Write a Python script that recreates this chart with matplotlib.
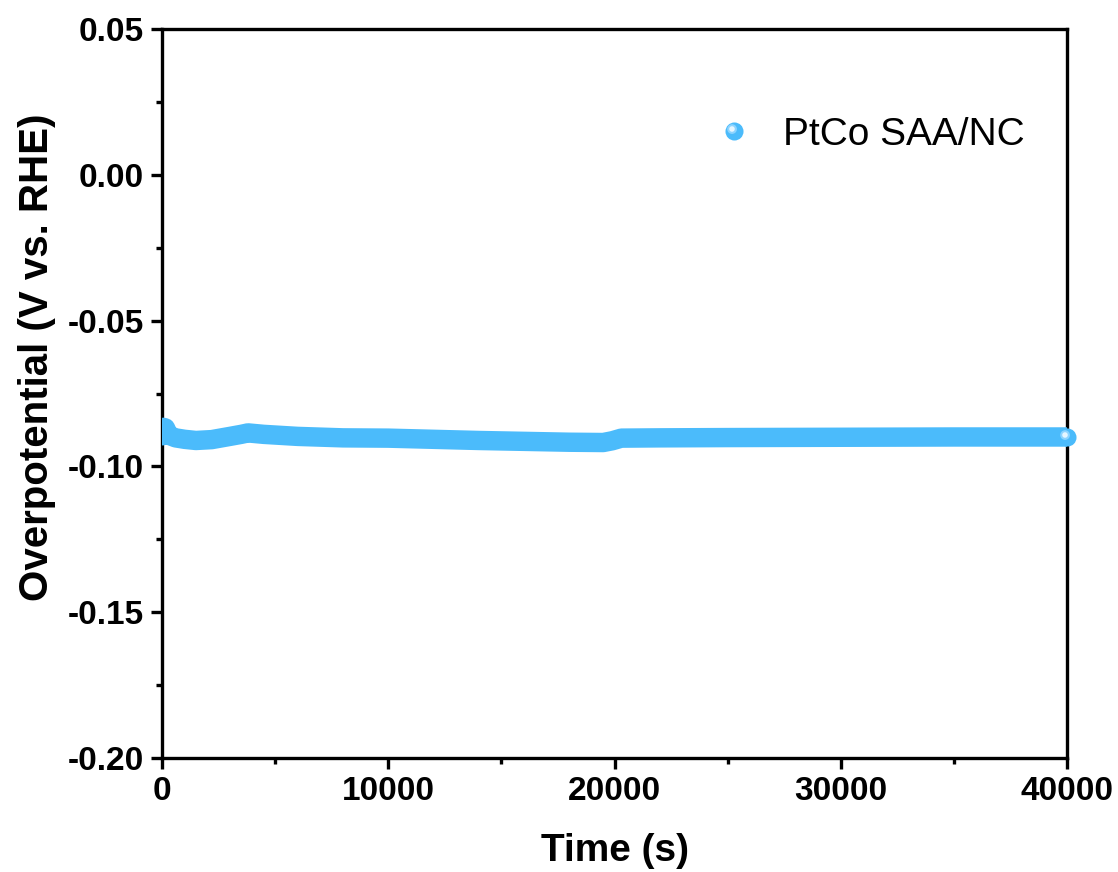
import matplotlib
matplotlib.use("Agg")
import matplotlib.pyplot as plt
from matplotlib.lines import Line2D
from matplotlib.markers import MarkerStyle
from matplotlib.transforms import Affine2D
from matplotlib.legend_handler import HandlerTuple
from matplotlib.ticker import MultipleLocator, FormatStrFormatter

plt.rcParams['font.family'] = ['Liberation Sans', 'DejaVu Sans']

# Data
time_s = [0, 60, 150, 300, 600, 1000, 1500, 2200, 3000, 3500, 3800, 4500,
          6000, 8000, 10000, 12000, 14000, 16000, 18000, 19500, 19900,
          20300, 22000, 25000, 30000, 35000, 40000]
overpotential = [-0.0895, -0.0866, -0.0868, -0.0893, -0.0902, -0.0907, -0.0911,
                 -0.0908, -0.0897, -0.0890, -0.0885, -0.0890, -0.0897, -0.0902,
                 -0.0903, -0.0907, -0.0911, -0.0914, -0.0917, -0.0918, -0.0912,
                 -0.0903, -0.0902, -0.0901, -0.0900, -0.0899, -0.0899]
series_label = "PtCo SAA/NC"
x_ticks = [0, 10000, 20000, 30000, 40000]
y_ticks = [-0.20, -0.15, -0.10, -0.05, 0.00, 0.05]

color = '#4BBBFB'
mid_hl = '#8DD4FF'
highlight = '#E6F6FF'
hl_marker_mid = MarkerStyle('o', transform=Affine2D().translate(-0.25, 0.25))
hl_marker = MarkerStyle('o', transform=Affine2D().translate(-0.45, 0.45))

fig = plt.figure(figsize=(11.18, 8.72), dpi=100)
ax = fig.add_axes([0.1449, 0.1307, 0.8095, 0.836])

ax.plot(time_s, overpotential, color=color, lw=14, solid_capstyle='round',
        solid_joinstyle='round', zorder=3)
ax.plot([time_s[-1]], [overpotential[-1]], 'o', color=color, ms=13, mec='none',
        clip_on=False, zorder=4)
ax.plot([time_s[-1]], [overpotential[-1]], marker=hl_marker_mid, color=mid_hl,
        ms=7, mec='none', ls='none', clip_on=False, zorder=5)
ax.plot([time_s[-1]], [overpotential[-1]], marker=hl_marker, color=highlight,
        ms=4, mec='none', ls='none', clip_on=False, zorder=6)

ax.set_xlim(0, 40000)
ax.set_ylim(-0.20, 0.05)
ax.set_xticks(x_ticks)
ax.set_yticks(y_ticks)
ax.xaxis.set_minor_locator(MultipleLocator(5000))
ax.yaxis.set_minor_locator(MultipleLocator(0.025))
ax.yaxis.set_major_formatter(FormatStrFormatter('%.2f'))

for s in ax.spines.values():
    s.set_linewidth(2.4)
ax.tick_params(which='major', direction='out', length=8, width=2.4,
               labelsize=24, pad=5, top=False, right=False)
ax.tick_params(which='minor', direction='out', length=4.5, width=2.4,
               top=False, right=False)
for lab in ax.get_xticklabels() + ax.get_yticklabels():
    lab.set_fontweight('bold')

ax.set_xlabel('Time (s)', fontsize=28, fontweight='bold', labelpad=19)
ax.set_ylabel('Overpotential (V vs. RHE)', fontsize=29, fontweight='bold')
ax.yaxis.set_label_coords(-0.117, 0.55)

h1 = Line2D([], [], marker='o', color=color, ms=13, ls='none', mec='none')
h2 = Line2D([], [], marker=hl_marker_mid, color=mid_hl, ms=7, ls='none', mec='none')
h3 = Line2D([], [], marker=hl_marker, color=highlight, ms=4, ls='none', mec='none')
ax.legend([(h1, h2, h3)], [series_label], handler_map={tuple: HandlerTuple(ndivide=1)},
          loc='center', frameon=False, fontsize=28, handlelength=2.0,
          handletextpad=0.25, bbox_to_anchor=(0.771, 0.855))

fig.savefig('out.png', dpi=100, facecolor='white')
